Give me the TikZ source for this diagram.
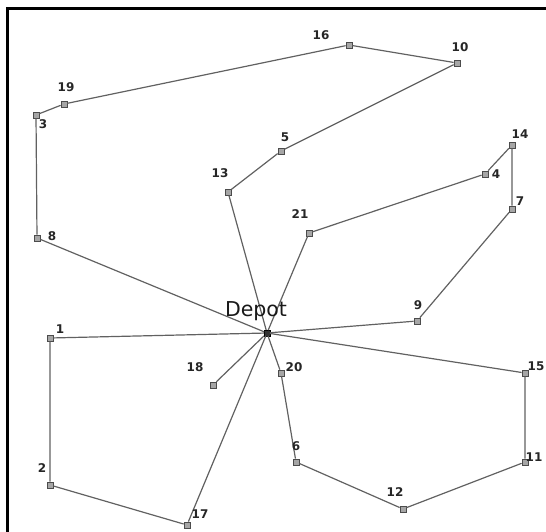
\documentclass[tikz,border=0pt]{standalone}
\usepackage{fontspec}
\setmainfont{DejaVu Sans}
\newfontfamily\lblfont{DejaVu Sans}
\begin{document}
\begin{tikzpicture}[x=1pt,y=-1pt,
  cust/.style={draw=black!70,fill=black!35,line width=0.8pt,minimum size=6pt,inner sep=0pt,rectangle},
  depotpt/.style={draw=black,fill=black!80,minimum size=5.5pt,inner sep=0pt,rectangle},
  route/.style={draw=black!62,line width=1.2pt},
  lbl/.style={font=\lblfont\bfseries\fontsize{12}{13}\selectfont,inner sep=0pt,text=black!85},
  frame/.style={line width=3pt,draw=black}]
\useasboundingbox (0,0) rectangle (546,532);
\draw[frame] (7,532) -- (7,9) -- (546,9);
% nodes
\node[depotpt] (D) at (267,333) {};
\node[cust] (n1) at (50,338) {};
\node[cust] (n2) at (50,485) {};
\node[cust] (n3) at (36,115) {};
\node[cust] (n4) at (485,174) {};
\node[cust] (n5) at (281,151) {};
\node[cust] (n6) at (296,462) {};
\node[cust] (n7) at (512,209) {};
\node[cust] (n8) at (37,238) {};
\node[cust] (n9) at (417,321) {};
\node[cust] (n10) at (457,63) {};
\node[cust] (n11) at (525,462) {};
\node[cust] (n12) at (403,509) {};
\node[cust] (n13) at (228,192) {};
\node[cust] (n14) at (512,145) {};
\node[cust] (n15) at (525,373) {};
\node[cust] (n16) at (349,45) {};
\node[cust] (n17) at (187,525) {};
\node[cust] (n18) at (213,385) {};
\node[cust] (n19) at (64,104) {};
\node[cust] (n20) at (281,373) {};
\node[cust] (n21) at (309,233) {};
% routes
\draw[route] (D) -- (n8) -- (n3) -- (n19) -- (n16) -- (n10) -- (n5) -- (n13) -- (D);
\draw[route] (D) -- (n21) -- (n4) -- (n14) -- (n7) -- (n9) -- (D);
\draw[route] (D) -- (n15) -- (n11) -- (n12) -- (n6) -- (n20) -- (D);
\draw[route] (D) -- (n17) -- (n2) -- (n1) -- (D);
\draw[route] (D) -- (n18);
% labels
\node[font=\fontsize{20.5}{22}\selectfont,inner sep=0pt,anchor=base,text=black!90] (Dl) at (256,316) {Depot};
\node[lbl] (l1) at (60,329) {1};
\node[lbl] (l2) at (42,468) {2};
\node[lbl] (l3) at (43,124) {3};
\node[lbl] (l4) at (496,174) {4};
\node[lbl] (l5) at (285,137) {5};
\node[lbl] (l6) at (296,446) {6};
\node[lbl] (l7) at (520,201) {7};
\node[lbl] (l8) at (52,236) {8};
\node[lbl] (l9) at (418,305) {9};
\node[lbl] (l10) at (460,47) {10};
\node[lbl] (l11) at (534,457) {11};
\node[lbl] (l12) at (395,492) {12};
\node[lbl] (l13) at (220,173) {13};
\node[lbl] (l14) at (520,134) {14};
\node[lbl] (l15) at (536,366) {15};
\node[lbl] (l16) at (321,35) {16};
\node[lbl] (l17) at (200,514) {17};
\node[lbl] (l18) at (195,367) {18};
\node[lbl] (l19) at (66,87) {19};
\node[lbl] (l20) at (294,367) {20};
\node[lbl] (l21) at (300,214) {21};
\end{tikzpicture}
\end{document}
